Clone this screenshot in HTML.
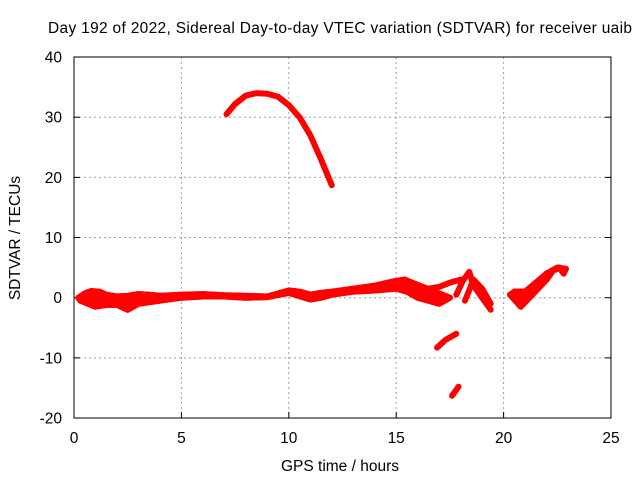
<!DOCTYPE html>
<html><head><meta charset="utf-8"><style>
body{margin:0;background:#fff}
svg text{font-family:"Liberation Sans",sans-serif;font-size:15.5px;fill:#000}
</style></head><body>
<svg id="chart" width="640" height="480">
<text x="340" y="33" text-anchor="middle" textLength="584">Day 192 of 2022, Sidereal Day-to-day VTEC variation (SDTVAR) for receiver uaib</text>
<g id="grid"></g>
<g id="axes"></g>
<g id="marks"></g>
<text x="340" y="471" text-anchor="middle">GPS time / hours</text>
<text transform="translate(20,238) rotate(-90)" text-anchor="middle">SDTVAR / TECUs</text>
</svg>
<script>
const xTicks=[0,5,10,15,20,25];
const yTicks=[-20,-10,0,10,20,30,40];
const arcT=[7.1,7.5,8.0,8.5,9.0,9.5,10.0,10.5,11.0,11.5,12.0];
const arcV=[30.5,32.2,33.6,34.0,33.9,33.4,32.0,30.0,27.0,23.0,18.7];
const upT=[0.2,0.5,0.8,1.2,1.5,2,2.5,3,3.5,4,5,6,7,8,9,10,10.5,11,11.5,12,13,14,15,15.4,16,16.5,17,17.5,18];
const upV=[0,0.7,1.1,1.0,0.5,0.2,0.3,0.6,0.5,0.3,0.5,0.6,0.4,0.3,0.2,1.2,1.0,0.5,0.8,1.0,1.5,2.0,2.8,3.0,1.8,1.5,1.8,2.5,3.0];
const loT=[0.3,1,1.5,2,2.5,3,4,5,6,7,8,9,10,11,11.5,12,13,14,15,15.5,16,16.5,17,17.5];
const loV=[-0.5,-1.5,-1.2,-1.2,-2.0,-1.0,-0.5,0,0.2,0.2,0,0.1,0.8,-0.3,0,0.5,1.0,1.2,1.5,1.0,0,-0.5,-1.0,0];
const c1T=[17.8,18.1,18.4,18.6,19.0,19.4];
const c1V=[0.5,2.8,4.3,2.0,0,-2.0];
const c2T=[18.2,18.6,19.0,19.4];
const c2V=[-0.5,3.0,1.5,-1.0];
const c3T=[20.3,20.8,21.2,21.6,22.0,22.3,22.6,22.8];
const c3V=[0.5,-1.5,0,1.5,3.0,4.5,5.0,4.0];
const c4T=[20.5,21.0,21.5,22.0,22.5,22.9];
const c4V=[1.0,1.0,2.5,4.0,5.0,4.8];
const s1T=[16.9,17.3,17.8];
const s1V=[-8.3,-7.0,-6.0];
const s2T=[17.6,17.9];
const s2V=[-16.3,-14.8];
const x=t=>74+t*(611-74)/25;
const y=v=>297.7-v*(361/60);
const NS='http://www.w3.org/2000/svg';
function mk(tag,at,parent){const e=document.createElementNS(NS,tag);for(const k in at)e.setAttribute(k,at[k]);parent.appendChild(e);return e;}
const grid=document.getElementById('grid'),axes=document.getElementById('axes'),marks=document.getElementById('marks');
xTicks.forEach(t=>{
 if(t>0&&t<25){const l=mk('line',{x1:x(t),x2:x(t),y1:57,y2:418,stroke:'#a0a0a0','stroke-dasharray':'2,3'},grid);
 
 }
 const tk=mk('line',{x1:x(t),x2:x(t),y1:418,y2:412,stroke:'#000'},axes);
 
 
 const tx=mk('text',{x:x(t),y:443,'text-anchor':'middle'},axes);tx.textContent=t;
 
 
});
yTicks.forEach(v=>{
 if(v>-20&&v<40){const l=mk('line',{x1:74,x2:611,y1:y(v),y2:y(v),stroke:'#a0a0a0','stroke-dasharray':'2,3'},grid);
 
 }
 const tk=mk('line',{x1:74,x2:80,y1:y(v),y2:y(v),stroke:'#000'},axes);
 
 
 const tk2=mk('line',{x1:605,x2:611,y1:y(v),y2:y(v),stroke:'#000'},axes);
 
 
 const tx=mk('text',{x:62,y:y(v)+5.5,'text-anchor':'end'},axes);tx.textContent=v;
 
 
});
const fr=mk('rect',{x:74,y:57,width:537,height:361,fill:'none',stroke:'#000'},axes);


function series(T,V,w,name){
 const p=mk('polyline',{points:T.map((t,i)=>x(t)+','+y(V[i])).join(' '),fill:'none',stroke:'#ff0000','stroke-width':w,'stroke-linejoin':'round','stroke-linecap':'round'},marks);
 
 
}
function band(T1,V1,T2,V2,name){
 const pts=T1.map((t,i)=>x(t)+','+y(V1[i])).concat(T2.map((t,i)=>x(t)+','+y(V2[i])).reverse());
 const p=mk('polygon',{points:pts.join(' '),fill:'#ff0000',stroke:'#ff0000','stroke-width':6,'stroke-linejoin':'round'},marks);
 
 
}
series(arcT,arcV,6,'series-arc');
band(upT.slice(0,24),upV.slice(0,24),loT,loV,'series-band');
series(upT,upV,6,'series-band-upper');
series(loT,loV,6,'series-band-lower');
series(c1T,c1V,6,'series-cluster-18-a');
series(c2T,c2V,6,'series-cluster-18-b');
band(c4T,c4V,c3T,c3V,'series-cluster-21');
series(c3T,c3V,6,'series-cluster-21-a');
series(c4T,c4V,6,'series-cluster-21-b');
series(s1T,s1V,6,'series-segment-minus7');
series(s2T,s2V,6,'series-segment-minus15');
</script>
</body></html>
